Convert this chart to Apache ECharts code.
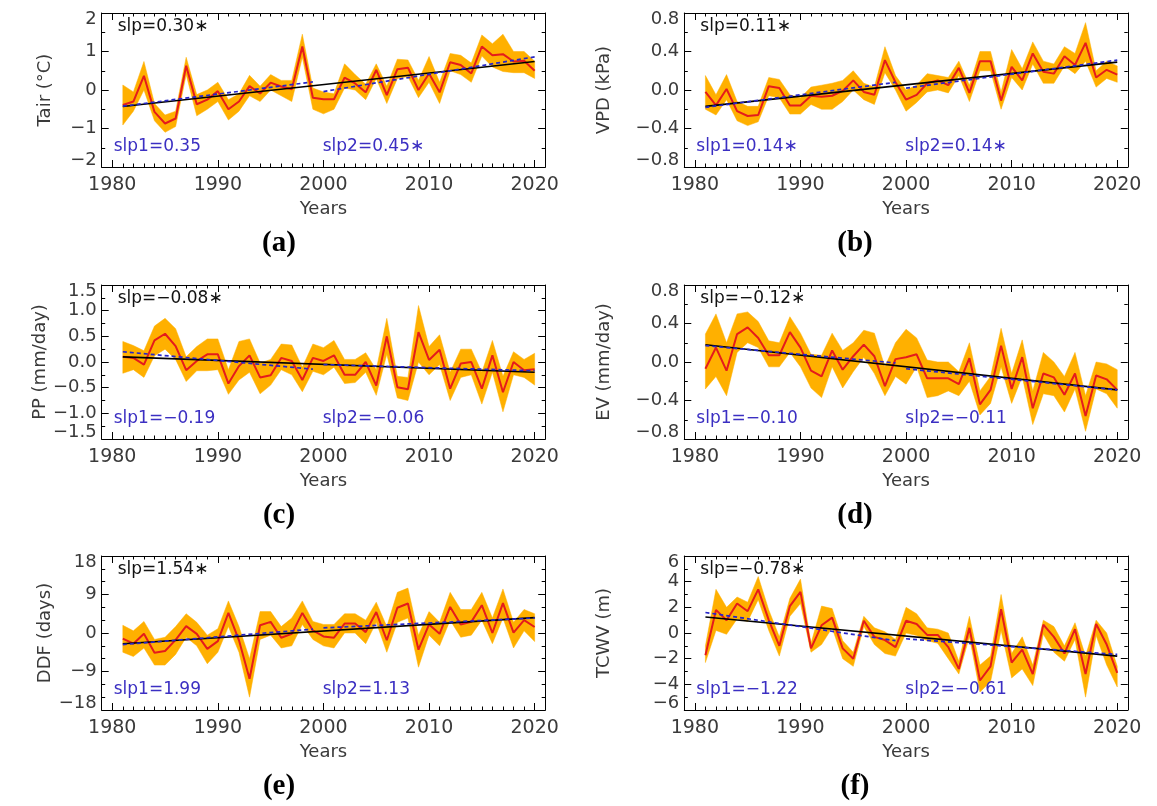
<!DOCTYPE html>
<html>
<head>
<meta charset="utf-8">
<script src="https://cdn.jsdelivr.net/npm/echarts@6/dist/echarts.min.js"></script>
<style>
html,body{margin:0;padding:0;background:#fff;}
#main{width:1157px;height:806px;}
</style>
</head>
<body>
<div id="main"></div>
<script>
// ---------------- DATA ----------------
const years = [1981,1982,1983,1984,1985,1986,1987,1988,1989,1990,
               1991,1992,1993,1994,1995,1996,1997,1998,1999,2000,
               2001,2002,2003,2004,2005,2006,2007,2008,2009,2010,
               2011,2012,2013,2014,2015,2016,2017,2018,2019,2020];
const majorYears = [1980,1990,2000,2010,2020];
const minorYears = [1979,1980,1981,1982,1983,1984,1985,1986,1987,1988,1989,1990,
                    1991,1992,1993,1994,1995,1996,1997,1998,1999,2000,
                    2001,2002,2003,2004,2005,2006,2007,2008,2009,2010,
                    2011,2012,2013,2014,2015,2016,2017,2018,2019,2020,2021];
const trendYears = [1981, 2020];
const seg1Years = [1981, 1999];
const seg2Years = [2000, 2020];

// (a) Tair
const tairMean = [-0.39,-0.30,0.37,-0.57,-0.87,-0.74,0.63,-0.37,-0.25,-0.03,
                  -0.50,-0.30,0.10,-0.09,0.19,0.09,0.02,1.13,-0.20,-0.24,
                  -0.24,0.32,0.17,-0.06,0.52,-0.13,0.54,0.58,0.00,0.43,
                  -0.06,0.72,0.65,0.43,1.13,0.90,0.93,0.74,0.76,0.50];
const tairHi = [0.13,-0.05,0.74,-0.35,-0.65,-0.55,0.85,-0.12,0.00,0.20,
                -0.25,-0.10,0.38,0.10,0.40,0.25,0.25,1.45,0.05,-0.05,
                -0.10,0.68,0.40,0.15,0.68,0.10,0.80,0.78,0.25,0.87,
                0.20,0.95,0.90,0.70,1.43,1.20,1.45,1.00,1.00,0.75];
const tairLo = [-0.91,-0.55,0.00,-0.80,-1.10,-0.95,0.40,-0.67,-0.50,-0.30,
                -0.78,-0.55,-0.15,-0.30,0.00,-0.15,-0.30,0.85,-0.50,-0.62,
                -0.50,0.05,0.00,-0.25,0.30,-0.35,0.30,0.35,-0.20,0.20,
                -0.35,0.50,0.40,0.20,0.88,0.60,0.48,0.45,0.45,0.30];
const tairTrend = [-0.43, 0.74];
const tairSeg1 = [-0.42, 0.21];
const tairSeg2 = [-0.04, 0.86];

// (b) VPD
const vpdMean = [-0.02,-0.16,0.01,-0.22,-0.27,-0.26,0.04,0.02,-0.16,-0.16,
                 -0.06,-0.07,-0.06,-0.01,0.10,-0.02,-0.05,0.31,0.08,-0.10,
                 -0.05,0.07,0.10,0.05,0.23,-0.03,0.30,0.30,-0.11,0.24,
                 0.10,0.38,0.19,0.17,0.35,0.26,0.49,0.13,0.21,0.16];
const vpdHi = [0.15,-0.05,0.16,-0.12,-0.17,-0.17,0.13,0.11,-0.05,-0.08,
               0.03,0.05,0.07,0.10,0.20,0.07,0.03,0.45,0.15,0.00,
               0.05,0.17,0.15,0.13,0.30,0.05,0.40,0.40,-0.02,0.42,
               0.22,0.50,0.30,0.27,0.45,0.38,0.70,0.20,0.30,0.25];
const vpdLo = [-0.20,-0.26,-0.10,-0.32,-0.37,-0.33,-0.06,-0.08,-0.25,-0.25,
               -0.15,-0.20,-0.20,-0.12,0.00,-0.10,-0.15,0.18,0.00,-0.22,
               -0.13,-0.02,0.00,-0.03,0.15,-0.12,0.20,0.20,-0.20,0.13,
               0.00,0.27,0.07,0.07,0.25,0.17,0.30,0.03,0.12,0.08];
const vpdTrend = [-0.17, 0.29];
const vpdSeg1 = [-0.18, 0.08];
const vpdSeg2 = [0.02, 0.31];

// (c) PP
const ppMean = [0.10,0.08,-0.05,0.42,0.55,0.31,-0.16,0.02,0.15,0.15,
                -0.42,-0.08,0.13,-0.30,-0.26,0.08,0.02,-0.35,0.08,0.02,
                0.13,-0.25,-0.25,0.00,-0.46,0.50,-0.49,-0.53,0.58,0.04,
                0.24,-0.52,-0.03,0.00,-0.52,0.13,-0.59,0.00,-0.16,-0.14];
const ppHi = [0.40,0.32,0.22,0.70,0.85,0.65,0.10,0.30,0.45,0.45,
              -0.15,0.40,0.45,-0.02,0.05,0.35,0.33,-0.10,0.35,0.28,
              0.42,0.05,0.05,0.18,-0.15,0.85,-0.28,-0.30,1.10,0.30,
              0.53,-0.20,0.25,0.25,-0.20,0.42,-0.28,0.20,0.05,0.17];
const ppLo = [-0.22,-0.15,-0.30,0.12,0.25,0.05,-0.38,-0.17,-0.17,-0.15,
              -0.63,-0.35,-0.20,-0.62,-0.45,-0.15,-0.25,-0.58,-0.18,-0.25,
              -0.10,-0.42,-0.40,-0.20,-0.65,0.15,-0.70,-0.75,0.00,-0.25,
              -0.05,-0.75,-0.30,-0.25,-0.82,-0.20,-0.97,-0.25,-0.30,-0.45];
const ppTrend = [0.10, -0.20];
const ppSeg1 = [0.20, -0.14];
const ppSeg2 = [-0.05, -0.17];

// (d) EV
const evMean = [-0.07,0.15,-0.09,0.29,0.36,0.25,0.07,0.07,0.31,0.15,
                -0.09,-0.15,0.12,-0.08,0.06,0.18,0.06,-0.25,0.03,0.05,
                0.08,-0.17,-0.17,-0.17,-0.23,0.04,-0.44,-0.29,0.17,-0.28,
                0.05,-0.48,-0.12,-0.16,-0.34,-0.12,-0.56,-0.14,-0.18,-0.29];
const evHi = [0.29,0.50,0.20,0.50,0.52,0.42,0.22,0.20,0.47,0.30,
              0.08,0.07,0.30,0.12,0.20,0.33,0.30,-0.05,0.20,0.34,
              0.25,0.02,0.00,0.00,-0.10,0.20,-0.30,-0.15,0.35,-0.12,
              0.23,-0.30,0.10,0.00,-0.15,0.10,-0.35,0.00,-0.02,-0.08];
const evLo = [-0.28,-0.15,-0.35,0.10,0.20,0.15,-0.05,-0.05,0.10,-0.05,
              -0.27,-0.37,-0.05,-0.27,-0.10,0.05,-0.12,-0.35,-0.15,-0.23,
              -0.05,-0.37,-0.35,-0.30,-0.35,-0.20,-0.55,-0.43,-0.05,-0.43,
              -0.15,-0.65,-0.33,-0.35,-0.52,-0.28,-0.72,-0.28,-0.33,-0.48];
const evTrend = [0.18, -0.29];
const evSeg1 = [0.17, -0.01];
const evSeg2 = [-0.07, -0.29];

// (e) DDF
const ddfMean = [-1.3,-2.5,-0.2,-4.6,-4.2,-1.6,1.6,-0.2,-3.7,-1.9,
                 4.7,-1.7,-10.7,1.8,2.6,-1.1,-0.2,4.7,0.6,-0.8,
                 -1.1,2.2,2.2,0.2,4.9,-1.7,5.9,6.9,-3.9,2.0,
                 -0.2,6.1,2.0,2.6,6.5,0.0,7.0,0.1,3.0,1.4];
const ddfHi = [1.8,0.5,2.7,-1.5,-1.0,1.5,4.5,2.5,-0.5,1.0,
               7.5,1.5,-6.0,5.0,5.0,1.5,3.5,7.5,2.7,2.0,
               2.0,4.5,4.5,3.0,7.2,1.5,9.5,10.5,-0.5,5.0,
               2.5,9.5,5.5,5.5,9.5,3.5,10.3,2.5,5.5,4.5];
const ddfLo = [-4.5,-5.5,-3.5,-7.5,-7.5,-5.0,-1.0,-3.0,-7.2,-4.5,
               1.5,-4.5,-15.0,-1.5,-0.5,-3.5,-3.0,2.0,-1.5,-3.0,
               -3.5,0.0,0.0,-2.5,2.5,-4.5,2.5,3.5,-8.0,-0.5,
               -3.0,3.0,-1.0,-0.5,3.0,-2.5,3.5,-3.5,0.5,-2.0];
const ddfTrend = [-2.5, 3.6];
const ddfSeg1 = [-2.7, 0.9];
const ddfSeg2 = [1.2, 3.5];

// (f) TCWV
const tcwvMean = [-1.74,1.8,1.0,2.3,1.7,3.4,1.0,-1.0,2.1,3.2,
                  -1.2,0.6,1.2,-1.2,-2.0,0.95,-0.3,-0.55,-1.1,0.95,
                  0.7,-0.15,-0.15,-1.1,-2.8,0.4,-3.7,-2.6,1.85,-2.3,
                  -1.3,-3.2,0.65,-0.3,-1.6,0.3,-3.2,0.7,-0.9,-3.1];
const tcwvHi = [-1.0,3.4,2.0,2.8,2.4,4.4,1.8,-0.3,2.7,4.2,
                -0.8,2.1,1.9,-0.6,-1.5,1.3,0.4,0.1,-0.5,2.0,
                1.5,0.4,0.3,0.0,-2.2,1.3,-2.5,-1.8,3.0,-1.6,
                -0.3,-2.5,1.0,0.5,-1.0,0.8,-1.8,1.0,0.0,-2.6];
const tcwvLo = [-2.3,0.2,-0.1,1.1,0.9,2.6,0.2,-1.8,1.3,2.3,
                -1.5,-0.9,0.4,-2.0,-2.6,0.5,-0.9,-1.6,-1.8,0.0,
                -0.2,-0.6,-0.8,-2.0,-3.2,-0.3,-4.6,-3.8,0.2,-3.5,
                -2.8,-4.1,-0.1,-1.5,-2.2,-0.5,-5.0,-0.2,-2.5,-4.2];
const tcwvTrend = [1.25, -1.80];
const tcwvSeg1 = [1.60, -0.60];
const tcwvSeg2 = [-0.45, -1.67];

const panels = [
  {tag:'(a)', yName:'Tair (°C)', min:-2, max:2, interval:1, minorSplit:2, dec:0,
   mean:tairMean, hi:tairHi, lo:tairLo, trend:tairTrend, seg1:tairSeg1, seg2:tairSeg2,
   slp:'slp=0.30∗', slp1:'slp1=0.35', slp2:'slp2=0.45∗'},
  {tag:'(b)', yName:'VPD (kPa)', min:-0.8, max:0.8, interval:0.4, minorSplit:2, dec:1,
   mean:vpdMean, hi:vpdHi, lo:vpdLo, trend:vpdTrend, seg1:vpdSeg1, seg2:vpdSeg2,
   slp:'slp=0.11∗', slp1:'slp1=0.14∗', slp2:'slp2=0.14∗'},
  {tag:'(c)', yName:'PP (mm/day)', min:-1.5, max:1.5, interval:0.5, minorSplit:2, dec:1,
   mean:ppMean, hi:ppHi, lo:ppLo, trend:ppTrend, seg1:ppSeg1, seg2:ppSeg2,
   slp:'slp=−0.08∗', slp1:'slp1=−0.19', slp2:'slp2=−0.06'},
  {tag:'(d)', yName:'EV (mm/day)', min:-0.8, max:0.8, interval:0.4, minorSplit:2, dec:1,
   mean:evMean, hi:evHi, lo:evLo, trend:evTrend, seg1:evSeg1, seg2:evSeg2,
   slp:'slp=−0.12∗', slp1:'slp1=−0.10', slp2:'slp2=−0.11'},
  {tag:'(e)', yName:'DDF (days)', min:-18, max:18, interval:9, minorSplit:3, dec:0,
   mean:ddfMean, hi:ddfHi, lo:ddfLo, trend:ddfTrend, seg1:ddfSeg1, seg2:ddfSeg2,
   slp:'slp=1.54∗', slp1:'slp1=1.99', slp2:'slp2=1.13'},
  {tag:'(f)', yName:'TCWV (m)', min:-6, max:6, interval:2, minorSplit:2, dec:0,
   mean:tcwvMean, hi:tcwvHi, lo:tcwvLo, trend:tcwvTrend, seg1:tcwvSeg1, seg2:tcwvSeg2,
   slp:'slp=−0.78∗', slp1:'slp1=−1.22', slp2:'slp2=−0.61'}
];

// ---------------- LAYOUT / STYLE ----------------
const colLeft = [101.7, 684.3];
const rowTop = [13, 285, 556];
const plotW = 443.5, plotH = 154;
const yNameGap = [47, 71];
const tagX = [279, 855];
const FONT = 'DejaVu Sans';
const LABEL_COLOR = '#3a3a3a';
const ORANGE = '#ffb000';
const RED = '#e51b1b';
const BLUE_LINE = '#2626c8';
const BLUE_TEXT = '#3b2fc2';

const chart = echarts.init(document.getElementById('main'), null, {renderer:'canvas'});
const grids = [], xAxes = [], yAxes = [], series = [], graphics = [];

panels.forEach((p, k) => {
  const col = k % 2, row = Math.floor(k / 2);
  const gl = colLeft[col], gt = rowTop[row];
  grids.push({left: gl, top: gt, width: plotW, height: plotH, show: false});
  const tickLine = {color:'#000', width:1};
  const xCommon = {type:'value', gridIndex:k, min:1979, max:2021, splitLine:{show:false}, minorSplitLine:{show:false}};
  const xi = xAxes.length;
  xAxes.push(Object.assign({}, xCommon, {
    position:'bottom',
    axisLine:{show:true, onZero:false, lineStyle:{color:'#000', width:1}},
    axisTick:{show:true, inside:true, length:7, customValues:majorYears, lineStyle:tickLine},
    axisLabel:{show:true, customValues:majorYears, margin:9, fontSize:19, color:LABEL_COLOR, fontFamily:FONT,
      formatter: v => String(v)},
    name:'Years', nameLocation:'middle', nameGap:33,
    nameTextStyle:{fontSize:18, color:LABEL_COLOR, fontFamily:FONT}
  }));
  xAxes.push(Object.assign({}, xCommon, {
    position:'bottom', axisLine:{show:false, onZero:false},
    axisTick:{show:true, inside:true, length:3.5, customValues:minorYears, lineStyle:tickLine},
    axisLabel:{show:false}
  }));
  xAxes.push(Object.assign({}, xCommon, {
    position:'top', axisLine:{show:true, onZero:false, lineStyle:{color:'#000', width:1}},
    axisTick:{show:true, inside:true, length:7, customValues:majorYears, lineStyle:tickLine},
    axisLabel:{show:false}
  }));
  xAxes.push(Object.assign({}, xCommon, {
    position:'top', axisLine:{show:false, onZero:false},
    axisTick:{show:true, inside:true, length:3.5, customValues:minorYears, lineStyle:tickLine},
    axisLabel:{show:false}
  }));

  const fmt = v => (p.dec ? v.toFixed(p.dec) : String(Math.round(v))).replace('-', '−');
  const yCommon = {type:'value', gridIndex:k, min:p.min, max:p.max, interval:p.interval,
    splitLine:{show:false}, minorSplitLine:{show:false},
    axisTick:{show:true, inside:true, length:7, lineStyle:tickLine},
    minorTick:{show:true, splitNumber:p.minorSplit, length:3.5, lineStyle:tickLine}};
  const yi = yAxes.length;
  yAxes.push(Object.assign({}, yCommon, {
    position:'left',
    axisLine:{show:true, onZero:false, lineStyle:{color:'#000', width:1}},
    axisLabel:{show:true, margin:5, fontSize:18, lineHeight:13, color:LABEL_COLOR, fontFamily:FONT, formatter:fmt,
      showMinLabel:true, showMaxLabel:true, hideOverlap:false,
      verticalAlignMaxLabel:'top', verticalAlignMinLabel:'bottom'},
    name:p.yName, nameLocation:'middle', nameGap:yNameGap[col],
    nameTextStyle:{fontSize:18, color:LABEL_COLOR, fontFamily:FONT}
  }));
  yAxes.push(Object.assign({}, yCommon, {
    position:'right',
    axisLine:{show:true, onZero:false, lineStyle:{color:'#000', width:1}},
    axisLabel:{show:false}
  }));

  // band (orange)
  const hi = p.hi, lo = p.lo;
  series.push({
    type:'custom', xAxisIndex:xi, yAxisIndex:yi, silent:true, z:1,
    data: years.map((y, i) => [y, lo[i], hi[i]]),
    encode:{x:0, y:[1,2]},
    renderItem: (params, api) => {
      if (params.dataIndex !== 0) return null;
      const pts = [];
      for (let i = 0; i < years.length; i++) pts.push(api.coord([years[i], hi[i]]));
      for (let i = years.length - 1; i >= 0; i--) pts.push(api.coord([years[i], lo[i]]));
      return {type:'polygon', shape:{points:pts}, style:{fill:ORANGE, stroke:ORANGE, lineWidth:0.5}};
    }
  });
  // mean line (red)
  series.push({
    type:'line', xAxisIndex:xi, yAxisIndex:yi, z:3, symbol:'none', silent:true,
    data: years.map((y, i) => [y, p.mean[i]]),
    lineStyle:{color:RED, width:2}
  });
  // full-period trend (black)
  series.push({
    type:'line', xAxisIndex:xi, yAxisIndex:yi, z:4, symbol:'none', silent:true,
    data: trendYears.map((y, i) => [y, p.trend[i]]),
    lineStyle:{color:'#000', width:1.6}
  });
  // sub-period trends (blue dashed)
  [[seg1Years, p.seg1], [seg2Years, p.seg2]].forEach(([ys, vs]) => {
    series.push({
      type:'line', xAxisIndex:xi, yAxisIndex:yi, z:5, symbol:'none', silent:true,
      data: ys.map((y, i) => [y, vs[i]]),
      lineStyle:{color:BLUE_LINE, width:1.7, type:[4,3]}
    });
  });

  // annotations
  graphics.push({type:'text', x: gl + 16, y: gt + 14, z:10,
    style:{text:p.slp, fontSize:17, fontFamily:FONT, fill:'#111', verticalAlign:'middle', align:'left'}});
  graphics.push({type:'text', x: gl + 12, y: gt + plotH - 20, z:10,
    style:{text:p.slp1, fontSize:17, fontFamily:FONT, fill:BLUE_TEXT, verticalAlign:'middle', align:'left'}});
  graphics.push({type:'text', x: gl + 221, y: gt + plotH - 20, z:10,
    style:{text:p.slp2, fontSize:17, fontFamily:FONT, fill:BLUE_TEXT, verticalAlign:'middle', align:'left'}});
  graphics.push({type:'text', x: tagX[col], y: gt + 231, z:10,
    style:{text:p.tag, fontSize:29, fontWeight:'bold', fontFamily:'Liberation Serif', fill:'#000',
      verticalAlign:'middle', align:'center'}});
});

chart.setOption({
  animation:false,
  backgroundColor:'#fff',
  grid:grids, xAxis:xAxes, yAxis:yAxes, series:series, graphic:graphics
});
</script>
</body>
</html>
